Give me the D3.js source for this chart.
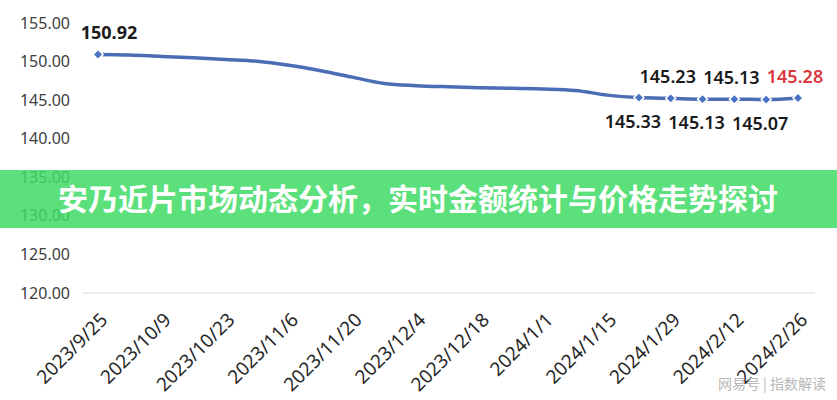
<!DOCTYPE html>
<html>
<head>
<meta charset="utf-8">
<script src="https://cdn.jsdelivr.net/npm/d3@7/dist/d3.min.js"></script>
<style>
  html, body { margin: 0; padding: 0; background: #fff; }
  svg { display: block; }
</style>
</head>
<body>
<svg id="chart" width="837" height="400"></svg>
<script>
const dates = ["2023/9/25","2023/10/2","2023/10/9","2023/10/16","2023/10/23","2023/10/30",
  "2023/11/6","2023/11/13","2023/11/20","2023/11/27","2023/12/4","2023/12/11","2023/12/18",
  "2023/12/25","2024/1/1","2024/1/8","2024/1/15","2024/1/22","2024/1/29","2024/2/5",
  "2024/2/12","2024/2/19","2024/2/26"];
const prices = [150.92,150.85,150.66,150.50,150.28,150.05,149.53,148.82,147.98,147.16,
  146.88,146.73,146.62,146.53,146.45,146.26,145.65,145.33,145.23,145.13,145.13,145.07,145.28];
const tickLabels = ["2023/9/25","2023/10/9","2023/10/23","2023/11/6","2023/11/20","2023/12/4",
  "2023/12/18","2024/1/1","2024/1/15","2024/1/29","2024/2/12","2024/2/26"];
const yTicks = [120,125,130,135,140,145,150,155];
const markedIdx = [0,17,18,19,20,21,22];
const labelSide = ["above","below","above","below","above","below","above"];
const title = "安乃近片市场动态分析，实时金额统计与价格走势探讨";
const watermark = "网易号 | 指数解读";

const parse = d3.timeParse("%Y/%m/%d");
const data = dates.map((d, i) => ({date: parse(d), value: prices[i]}));
const svg = d3.select("#chart");
const font = "'Noto Sans', 'Open Sans', sans-serif";

const x = d3.scaleTime().domain([parse(dates[0]), parse(dates[dates.length-1])]).range([98, 798]);
const y = d3.scaleLinear().domain([120, 155]).range([293, 23]);

// baseline
svg.append("line").attr("x1", x.range()[0]-15).attr("x2", x.range()[1]+17)
  .attr("y1", y(120)).attr("y2", y(120)).attr("stroke", "#d9d9d9").attr("stroke-width", 1.2);

// y axis labels
const yAxis = d3.axisLeft(y).tickValues(yTicks).tickFormat(d3.format(".2f")).tickSize(0).tickPadding(0);
const gy = svg.append("g").attr("transform", "translate(70,0)").call(yAxis);
gy.select(".domain").remove();
gy.selectAll("text").attr("font-family", font).attr("font-size", 16).attr("fill", "#404040");

// x axis labels
const xAxis = d3.axisBottom(x).tickValues(tickLabels.map(parse)).tickFormat(d3.timeFormat("%Y/%-m/%-d")).tickSize(0);
const gx = svg.append("g").attr("transform", `translate(0,${y(120)})`).call(xAxis);
gx.select(".domain").remove();
gx.selectAll("text")
  .attr("font-family", font).attr("font-size", 19).attr("fill", "#262626")
  .attr("text-anchor", "end").attr("dy", 0)
  .attr("transform", "translate(8,26) rotate(-45)");

// line
const line = d3.line().x(d => x(d.date)).y(d => y(d.value)).curve(d3.curveMonotoneX);
svg.append("path").datum(data).attr("d", line)
  .attr("fill", "none").attr("stroke", "#4a6db5").attr("stroke-width", 3.5)
  .attr("stroke-linejoin", "round").attr("stroke-linecap", "round");

// markers (diamonds)
const marked = markedIdx.map(i => data[i]);
svg.selectAll(".mk").data(marked).enter().append("path")
  .attr("d", d3.symbol().type(d3.symbolSquare).size(50))
  .attr("transform", d => `translate(${x(d.date)},${y(d.value)}) rotate(45)`)
  .attr("fill", "#4a72c4").attr("stroke", "#fff").attr("stroke-width", 1.5);

// value labels
svg.selectAll(".lbl").data(marked).enter().append("text")
  .attr("x", d => x(d.date))
  .attr("dx", (d, i) => i === 0 ? 11 : (labelSide[i] === "below" ? -6 : -3))
  .attr("y", (d, i) => labelSide[i] === "above" ? y(d.value) - 15 : y(d.value) + 30)
  .attr("text-anchor", "middle")
  .attr("font-family", font).attr("font-size", 18)
  .attr("font-weight", (d, i) => i === 0 ? "bold" : "600")
  .attr("fill", (d, i) => i === marked.length - 1 ? "#d9383e" : "#1a1a1a")
  .text(d => d.value.toFixed(2));

// banner
svg.append("rect").attr("x", 0).attr("y", 170).attr("width", 837).attr("height", 58)
  .attr("fill", "rgb(63,219,101)").attr("fill-opacity", 0.85);
svg.append("text").attr("x", 418).attr("y", 199).attr("dy", "0.36em")
  .attr("text-anchor", "middle").attr("font-family", "'Noto Sans CJK SC', sans-serif")
  .attr("font-size", 30).attr("font-weight", "bold").attr("fill", "#fff")
  .text(title);

// watermark
svg.append("text").attr("x", 826).attr("y", 389).attr("text-anchor", "end")
  .attr("font-family", "'Noto Sans CJK SC', sans-serif").attr("font-size", 14)
  .attr("fill", "#b8b8b8").text(watermark);
</script>
</body>
</html>
